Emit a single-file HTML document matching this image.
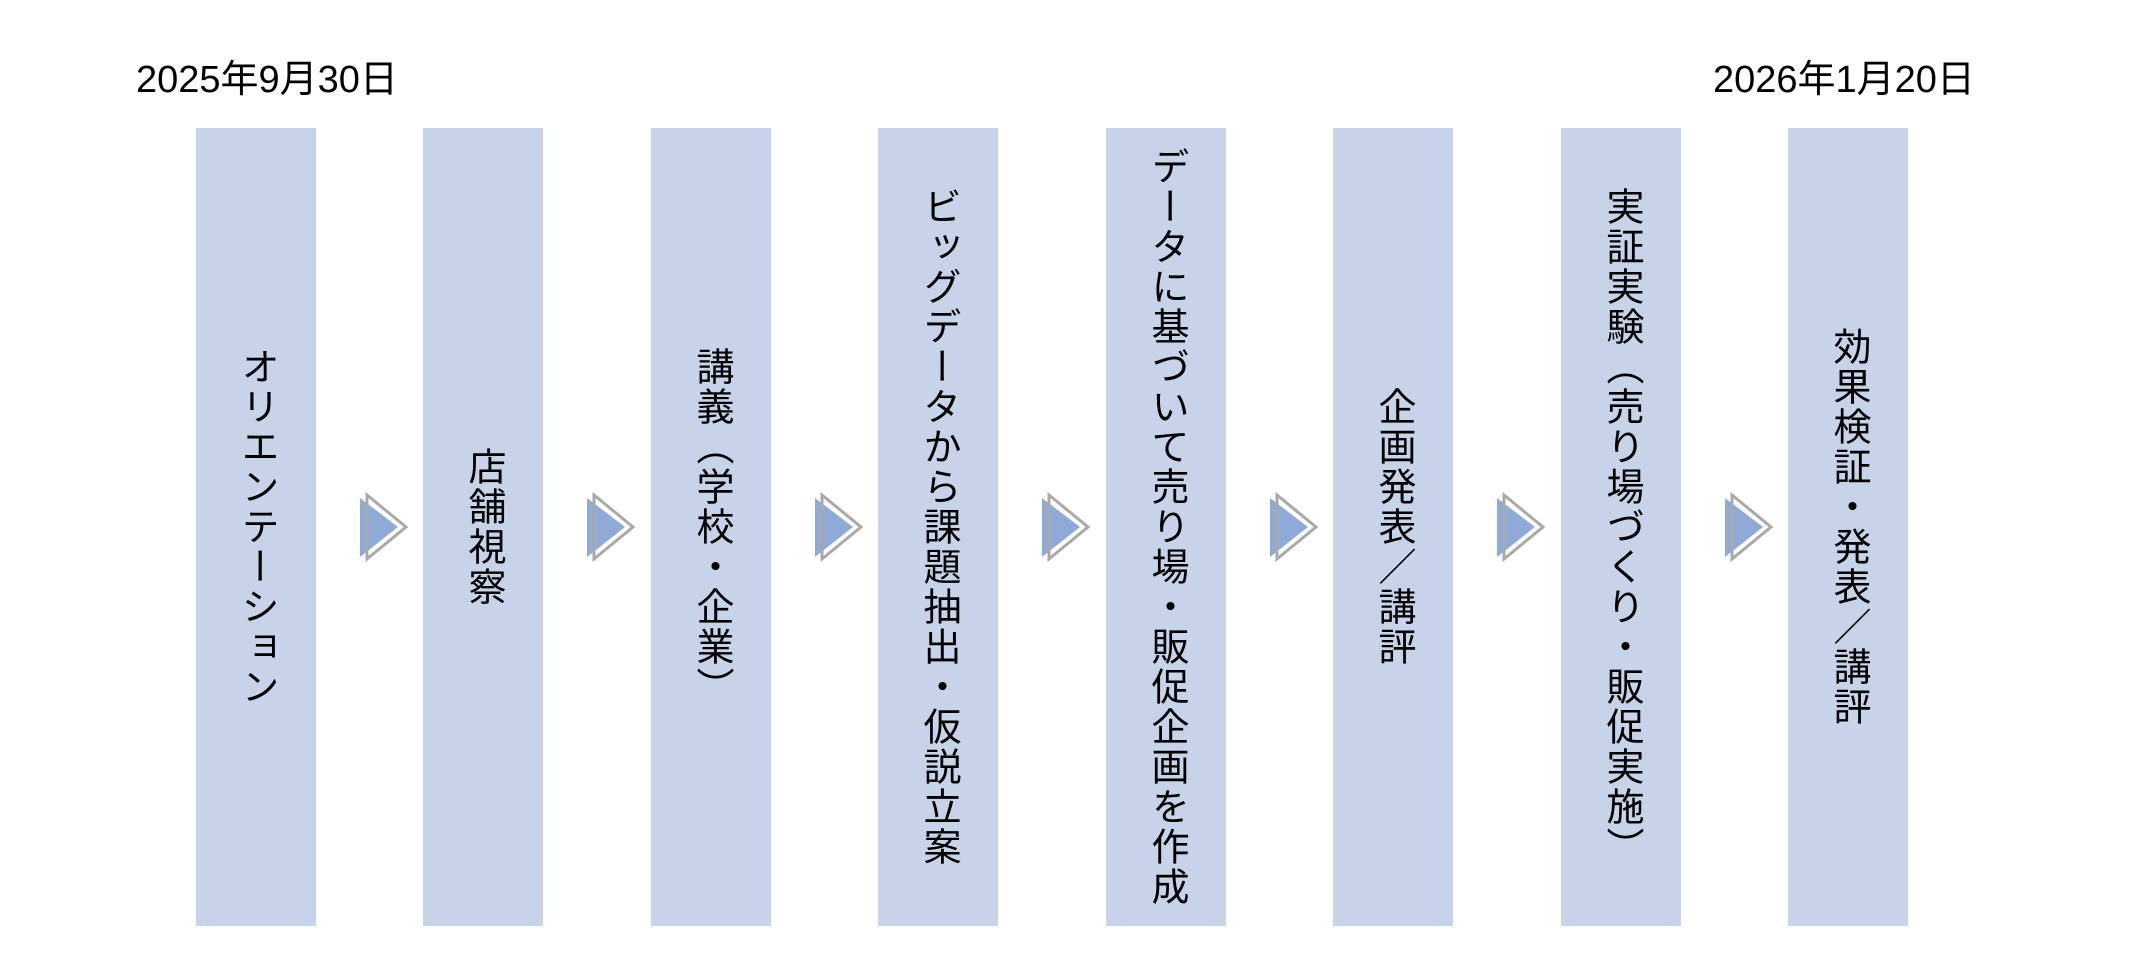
<!DOCTYPE html>
<html><head><meta charset="utf-8"><style>
html,body{margin:0;padding:0;background:#fff;width:2136px;height:976px;overflow:hidden;position:relative;font-family:"Liberation Sans","Noto Sans CJK JP",sans-serif;}
.date{position:absolute;top:48px;font-size:38px;color:#000;white-space:nowrap;}
.bar{position:absolute;top:128px;width:120px;height:798px;background:#c7d3e8;display:flex;align-items:center;justify-content:center;}
.bar span{writing-mode:vertical-rl;font-size:38px;letter-spacing:2px;color:#000;line-height:1;white-space:nowrap;}
svg{position:absolute;left:0;top:0;}
</style></head><body>
<div class="date" style="left:136px">2025年9月30日</div>
<div class="date" style="left:1713px">2026年1月20日</div>
<div class="bar" style="left:196px"><span>オリエンテーション</span></div>
<div class="bar" style="left:423px"><span>店舗視察</span></div>
<div class="bar" style="left:651px"><span>講義（学校・企業）</span></div>
<div class="bar" style="left:878px"><span>ビッグデータから課題抽出・仮説立案</span></div>
<div class="bar" style="left:1106px"><span>データに基づいて売り場・販促企画を作成</span></div>
<div class="bar" style="left:1333px"><span>企画発表／講評</span></div>
<div class="bar" style="left:1561px"><span>実証実験（売り場づくり・販促実施）</span></div>
<div class="bar" style="left:1788px"><span>効果検証・発表／講評</span></div>
<svg width="2136" height="976">
<g id="a">
<polygon points="360,498 398,527 360,557" fill="#8faad6"/>
<polygon points="367,495 406,527 367,559" fill="none" stroke="#a9a9a9" stroke-width="3"/>
</g>
<use href="#a" x="227"/>
<use href="#a" x="455"/>
<use href="#a" x="682"/>
<use href="#a" x="910"/>
<use href="#a" x="1137"/>
<use href="#a" x="1365"/>
</svg>
</body></html>
